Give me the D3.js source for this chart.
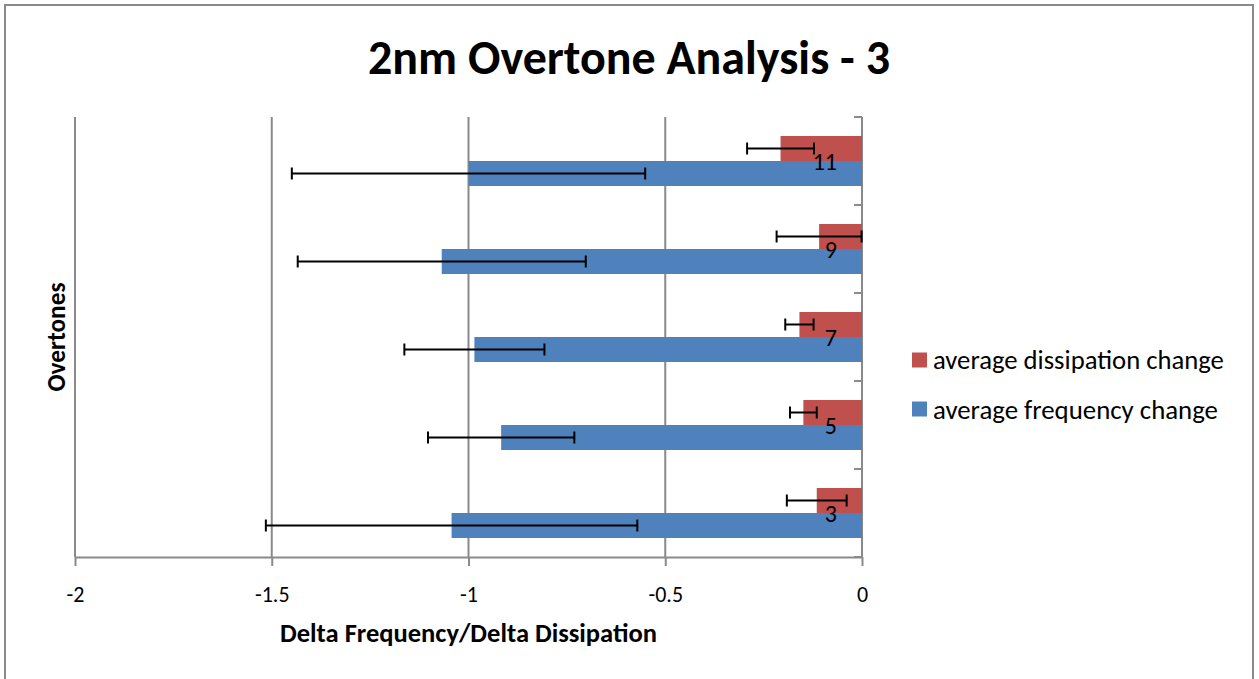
<!DOCTYPE html>
<html>
<head>
<meta charset="utf-8">
<script src="https://cdn.jsdelivr.net/npm/d3@7"></script>
<style>
  html, body { margin: 0; padding: 0; background: #fff; }
  svg { display: block; }
  text { font-family: Carlito, Lato, "Open Sans", sans-serif; fill: #000; }
</style>
</head>
<body>
<svg id="chart" width="1259" height="679"></svg>
<script>
// ---- data ----
const overtones = ["3", "5", "7", "9", "11"];
const dissipationChange = [-0.115, -0.149, -0.159, -0.109, -0.207];
const dissipationError  = [0.076, 0.034, 0.036, 0.108, 0.085];
const frequencyChange   = [-1.043, -0.917, -0.985, -1.068, -1.000];
const frequencyError    = [0.472, 0.186, 0.178, 0.366, 0.449];
const xTicks = [-2, -1.5, -1, -0.5, 0];
const seriesNames = ["average dissipation change", "average frequency change"];
const seriesColors = ["#C0504D", "#4F81BD"];
const titleText = "2nm Overtone Analysis - 3";
const xTitle = "Delta Frequency/Delta Dissipation";
const yTitle = "Overtones";

// ---- layout ----
const svg = d3.select("#chart");
const plotLeft = 75, plotRight = 862, plotTop = 117, plotBottom = 557;
const gridColor = "#8a8a8a";

function fit(sel, targetWidth) {
  sel.style("font-size", "100px");
  const w = sel.node().getComputedTextLength();
  sel.style("font-size", (100 * targetWidth / w) + "px");
  return sel;
}

// outer border
svg.append("rect").attr("x", 5).attr("y", 5).attr("width", 1248).attr("height", 700)
  .attr("fill", "none").attr("stroke", gridColor).attr("stroke-width", 2);

const x = d3.scaleLinear().domain([-2, 0]).range([plotLeft, plotRight]);
const y = d3.scaleBand().domain(overtones.slice().reverse()).range([plotTop, plotBottom]).padding(0);
const ySeries = d3.scaleBand().domain([0, 1]).range([0, y.bandwidth()]).paddingInner(0).paddingOuter(0.76);

// gridlines
svg.append("g").selectAll("line").data(xTicks).join("line")
  .attr("x1", d => x(d)).attr("x2", d => x(d))
  .attr("y1", plotTop).attr("y2", plotBottom)
  .attr("stroke", gridColor).attr("stroke-width", 2);

// x axis
const xAxis = svg.append("g").attr("transform", `translate(0,${plotBottom})`)
  .call(d3.axisBottom(x).tickValues(xTicks).tickSize(9).tickSizeOuter(0).tickPadding(20)
    .tickFormat(d => String(d)));
xAxis.select(".domain").attr("stroke", gridColor).attr("stroke-width", 2);
xAxis.selectAll(".tick line").attr("stroke", gridColor).attr("stroke-width", 2);
xAxis.selectAll(".tick text").style("font-size", "22px").attr("fill", "#000");

// category axis ticks (at band boundaries, on the zero line)
const boundaries = overtones.map(o => y(o)).concat([plotBottom]);
svg.append("g").selectAll("line").data(boundaries).join("line")
  .attr("x1", plotRight - 8).attr("x2", plotRight)
  .attr("y1", d => d).attr("y2", d => d)
  .attr("stroke", gridColor).attr("stroke-width", 2);

// bars
const series = [
  { values: dissipationChange, errors: dissipationError, color: seriesColors[0] },
  { values: frequencyChange, errors: frequencyError, color: seriesColors[1] }
];
series.forEach((s, si) => {
  const g = svg.append("g");
  g.selectAll("rect").data(overtones).join("rect")
    .attr("x", (o, i) => x(s.values[i]))
    .attr("width", (o, i) => x(0) - x(s.values[i]))
    .attr("y", o => y(o) + ySeries(si))
    .attr("height", ySeries.bandwidth())
    .attr("fill", s.color);
});

// error bars
series.forEach((s, si) => {
  const g = svg.append("g").attr("stroke", "#000").attr("stroke-width", 2);
  overtones.forEach((o, i) => {
    const cy = y(o) + ySeries(si) + ySeries.bandwidth() / 2;
    const x1 = x(s.values[i] - s.errors[i]), x2 = x(s.values[i] + s.errors[i]);
    g.append("line").attr("x1", x1).attr("x2", x2).attr("y1", cy).attr("y2", cy);
    g.append("line").attr("x1", x1).attr("x2", x1).attr("y1", cy - 6).attr("y2", cy + 6);
    g.append("line").attr("x1", x2).attr("x2", x2).attr("y1", cy - 6).attr("y2", cy + 6);
  });
});

// category labels
svg.append("g").selectAll("text").data(overtones).join("text")
  .attr("x", plotRight - 25)
  .attr("y", o => y(o) + y.bandwidth() / 2)
  .attr("text-anchor", "end").attr("dominant-baseline", "central")
  .style("font-size", "24px")
  .text(o => o);

// title
fit(svg.append("text").attr("x", 629).attr("y", 57)
  .attr("text-anchor", "middle").attr("dominant-baseline", "central")
  .style("font-weight", "bold").text(titleText), 522);

// x title
fit(svg.append("text").attr("x", (plotLeft + plotRight) / 2).attr("y", 633)
  .attr("text-anchor", "middle").attr("dominant-baseline", "central")
  .style("font-weight", "bold").text(xTitle), 377);

// y title
fit(svg.append("text").attr("transform", "translate(56,337) rotate(-90)")
  .attr("text-anchor", "middle").attr("dominant-baseline", "central")
  .style("font-weight", "bold").text(yTitle), 109);

// legend
const legend = svg.append("g");
const legendY = [360, 409];
seriesNames.forEach((name, i) => {
  legend.append("rect").attr("x", 912).attr("y", legendY[i] - 7.5)
    .attr("width", 15).attr("height", 15).attr("fill", seriesColors[i]);
  const t = legend.append("text").attr("x", 933).attr("y", legendY[i])
    .attr("dominant-baseline", "central").text(name);
  fit(t, i === 0 ? 291 : 285);
});
</script>
</body>
</html>
